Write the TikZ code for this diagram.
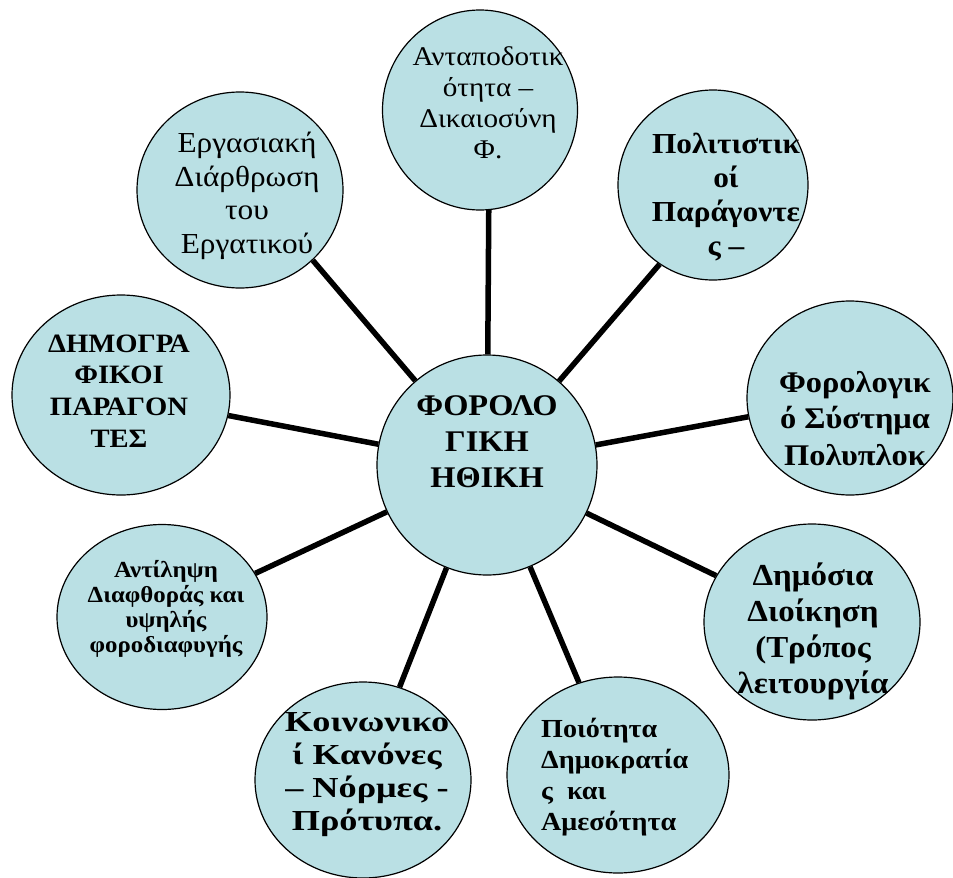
\documentclass[tikz,border=0pt]{standalone}
\usepackage{fontspec}
\setmainfont{Liberation Serif}[FakeStretch=1.08]
\newfontfamily\widefont{Liberation Serif}[FakeStretch=1.25]
\usetikzlibrary{shapes.geometric}
\definecolor{bubblefill}{RGB}{186,224,228}

\begin{document}
\begin{tikzpicture}[x=1pt, y=-1pt,
  bubble/.style={ellipse, draw, line width=1.2pt, fill=bubblefill, inner sep=0pt},
  spoke/.style={line width=5.5pt},
  bubbletext/.style={align=center, inner sep=0pt, anchor=base}]
\useasboundingbox (0,0) rectangle (953,878);
\node[bubble, minimum width=220pt, minimum height=220pt] (moral) at (487,465) {};
\node[bubble, minimum width=195pt, minimum height=200pt] (reciproc) at (480,110) {};
\node[bubble, minimum width=206pt, minimum height=196pt] (labour) at (240,190) {};
\node[bubble, minimum width=190pt, minimum height=190pt] (culture) at (713,185) {};
\node[bubble, minimum width=218pt, minimum height=200pt] (demog) at (121,395) {};
\node[bubble, minimum width=206pt, minimum height=194pt] (taxsys) at (850,398) {};
\node[bubble, minimum width=210pt, minimum height=185pt] (corrupt) at (162,617) {};
\node[bubble, minimum width=216pt, minimum height=196pt] (admin) at (812,622) {};
\node[bubble, minimum width=216pt, minimum height=196pt] (social) at (363,780) {};
\node[bubble, minimum width=222pt, minimum height=196pt] (democ) at (618,775) {};
\draw[spoke] (moral) -- (reciproc.-85);
\draw[spoke] (moral) -- (labour.-44);
\draw[spoke] (moral) -- (culture.-124);
\draw[spoke] (moral) -- (demog);
\draw[spoke] (moral) -- (taxsys);
\draw[spoke] (moral) -- (corrupt);
\draw[spoke] (moral) -- (admin);
\draw[spoke] (moral) -- (social);
\draw[spoke] (moral) -- (democ);
\node[bubbletext, font=\fontsize{30}{36}\selectfont\bfseries] (moraltext) at (487,487) {ΦΟΡΟΛΟ\\ΓΙΚΗ\\ΗΘΙΚΗ};
\node[bubbletext, font=\fontsize{27}{31}\selectfont] (reciproctext) at (488,158) {Ανταποδοτικ\\ότητα –\\Δικαιοσύνη\\Φ.};
\begin{scope}
\clip (130,90) rectangle (345,262);
\node[bubbletext, font=\fontsize{29}{33.5}\selectfont] (labourtext) at (247,253) {Εργασιακή\\Διάρθρωση\\του\\Εργατικού};
\end{scope}
\node[bubbletext, font=\fontsize{29}{34}\selectfont\bfseries] (culturetext) at (726,255) {Πολιτιστικ\\οί\\Παράγοντε\\ς –};
\node[bubbletext, font=\fontsize{26.5}{31.6}\selectfont\bfseries] (demogtext) at (119,447) {ΔΗΜΟΓΡΑ\\ΦΙΚΟΙ\\ΠΑΡΑΓΟΝ\\ΤΕΣ};
\node[bubbletext, font=\fontsize{30}{36.5}\selectfont\bfseries] (taxsystext) at (855,465) {Φορολογικ\\ό Σύστημα\\Πολυπλοκ};
\node[bubbletext, font=\fontsize{23}{24.7}\selectfont\bfseries] (corrupttext) at (166,652) {Αντίληψη\\Διαφθοράς και\\υψηλής\\φοροδιαφυγής};
\begin{scope}
\clip (700,540) rectangle (925,700);
\node[bubbletext, font=\fontsize{30.5}{36}\selectfont\bfseries] (admintext) at (813,693) {Δημόσια\\Διοίκηση\\(Τρόπος\\λειτουργία};
\end{scope}
\begin{scope}
\clip (255,700) rectangle (475,838);
\node[bubbletext, font=\widefont\fontsize{29}{32.7}\selectfont\bfseries] (socialtext) at (367,830) {Κοινωνικο\\ί Κανόνες\\– Νόρμες -\\Πρότυπα.};
\end{scope}
\node[bubbletext, align=left, anchor=base west, font=\fontsize{26}{31}\selectfont\bfseries] (democtext) at (541,830) {Ποιότητα\\Δημοκρατία\\ς\ \ και\\Αμεσότητα};
\end{tikzpicture}
\end{document}
